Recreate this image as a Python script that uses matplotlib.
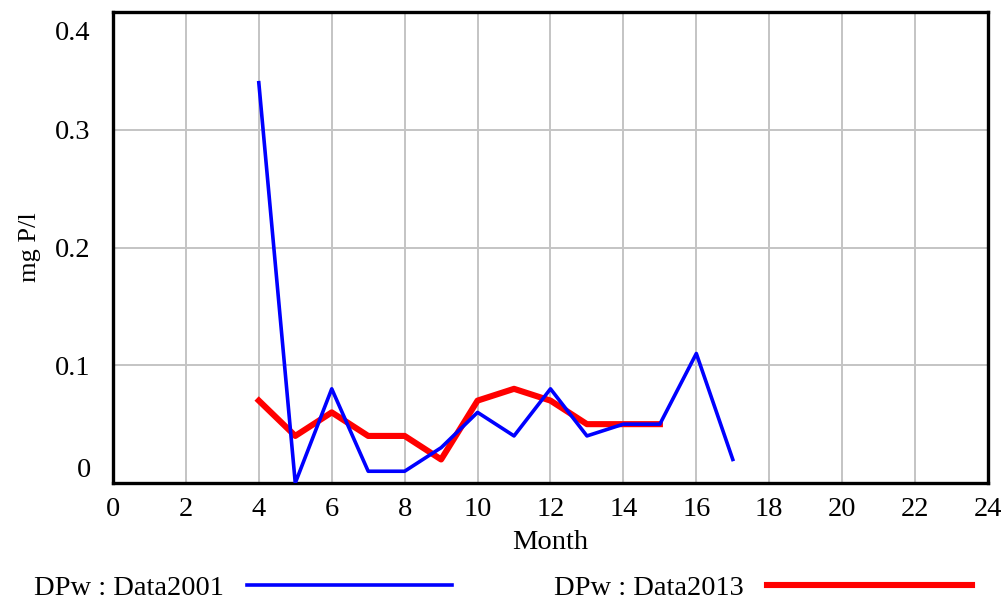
import matplotlib.pyplot as plt
from matplotlib.transforms import ScaledTranslation

# monthly DPw observations (mg P/l)
months01 = [4, 5, 6, 7, 8, 9, 10, 11, 12, 13, 14, 15, 16, 17]
data2001 = [0.34, 0.0, 0.08, 0.01, 0.01, 0.03, 0.06, 0.04, 0.08, 0.04, 0.05, 0.05, 0.11, 0.02]
months13 = [4, 5, 6, 7, 8, 9, 10, 11, 12, 13, 14, 15]
data2013 = [0.07, 0.04, 0.06, 0.04, 0.04, 0.02, 0.07, 0.08, 0.07, 0.05, 0.05, 0.05]

xticks = list(range(0, 25, 2))
yticks = [0, 0.1, 0.2, 0.3, 0.4]
ylabels = ['0', '0.1', '0.2', '0.3', '0.4']

plt.rcParams['font.family'] = ['Liberation Serif', 'DejaVu Serif']

fig = plt.figure(figsize=(10.06, 6.04), dpi=100)
ax = fig.add_axes([0.1123, 0.2003, 0.8698, 0.7797])

ax.plot(months01, data2001, color='#0000ff', lw=2.6, label='DPw : Data2001', zorder=3)
ax.plot(months13, data2013, color='#ff0000', lw=4.4, label='DPw : Data2013', zorder=2)

ax.set_xlim(0, 24)
ax.set_ylim(0, 0.4)
ax.set_xticks(xticks)
ax.set_yticks(yticks, ylabels)
ax.grid(True, color='#c4c4c4', lw=1.4)
ax.tick_params(direction='in', length=3, color='#c4c4c4', labelsize=20.5, pad=10)
ax.tick_params(axis='y', pad=16)
ylab = ax.get_yticklabels()
ylab[0].set_va('bottom')
# push the top label down so it sits inside the frame height
ylab[-1].set_transform(ylab[-1].get_transform() + ScaledTranslation(0, -13 / 72, fig.dpi_scale_trans))

for s in ax.spines.values():
    s.set_linewidth(2.4)
    s.set_color('black')

ax.set_xlabel('Month', fontsize=20.5, labelpad=6)
ax.set_ylabel('mg P/l', fontsize=19, labelpad=10)

fig.legend(loc='lower center', bbox_to_anchor=(0.5, -0.037), ncol=2, markerfirst=False,
           frameon=False, fontsize=20.5, handlelength=7.2, handletextpad=0.8,
           columnspacing=3.6)

plt.savefig('out.png')
